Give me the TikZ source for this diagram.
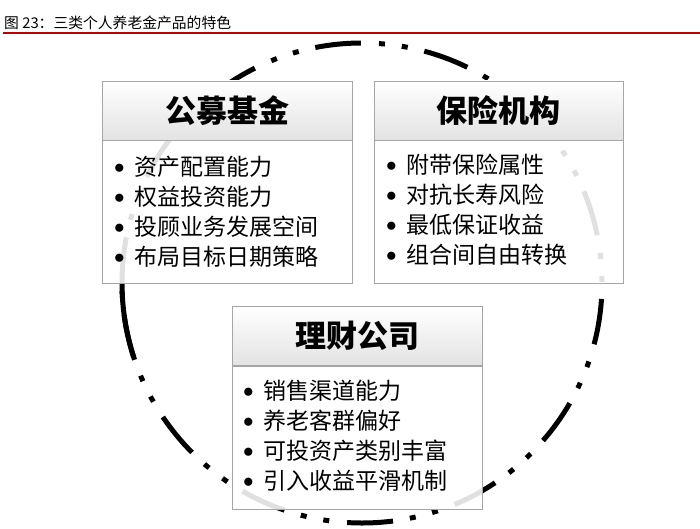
\documentclass[tikz,border=0pt]{standalone}
\usepackage{fontspec}
\setmainfont{Noto Sans CJK SC}
\usepackage{tikz}
\usetikzlibrary{positioning}

\newcommand{\itm}{\makebox[21pt][l]{\hspace{1pt}\raisebox{2pt}{\scalebox{0.85}{$\bullet$}}}}

\begin{document}
\begin{tikzpicture}[
    x=1pt, y=-1pt,
    head/.style={draw=black!35, top color=white, bottom color=black!11, minimum width=250pt, minimum height=59pt, inner sep=0pt, font=\fontsize{31}{31}\selectfont\bfseries},
    panel/.style={draw=black!35, fill=white, fill opacity=0.88, minimum width=250pt, minimum height=143pt, inner sep=0pt},
    items/.style={align=left, inner sep=0pt, anchor=north west, font=\fontsize{23}{30}\selectfont},
    ring/.style={line width=5pt, black},
  ]
  \useasboundingbox (0,0) rectangle (700,529);

  % caption
  \node[anchor=west, inner sep=0pt, font=\fontsize{14.8}{15}\selectfont] (cap) at (4,23) {图 23：三类个人养老金产品的特色};
  \coordinate (rl) at (3,33);
  \coordinate (rr) at (700,33);
  \draw[red!75!black, line width=1.6pt] (rl) -- (rr);

  % dash-dot-dot ring behind the panels
  \coordinate (ctr) at (362,283);
  \draw[ring, dash pattern=on 46pt off 18pt on 6pt off 17pt on 6pt off 17pt] (ctr) ++(180:240) arc[start angle=180, end angle=540, radius=240];
  \draw[ring] (ctr) ++(162:240) arc[start angle=162, end angle=180, radius=240];

  % 公募基金
  \node[head] (fundhd) at (227,110.5) {公募基金};
  \node[panel, below=0pt of fundhd] (fund) {};
  \node[items] (funditems) at (113,156) {\itm 资产配置能力\\\itm 权益投资能力\\\itm 投顾业务发展空间\\\itm 布局目标日期策略};

  % 保险机构
  \node[head, minimum width=249pt] (inshd) at (498.5,110.5) {保险机构};
  \node[panel, minimum width=249pt, below=0pt of inshd] (ins) {};
  \node[items] (insitems) at (385,154) {\itm 附带保险属性\\\itm 对抗长寿风险\\\itm 最低保证收益\\\itm 组合间自由转换};

  % 理财公司
  \node[head] (wmhd) at (357,336) {理财公司};
  \node[panel, below=0pt of wmhd] (wm) {};
  \node[items] (wmitems) at (242,380) {\itm 销售渠道能力\\\itm 养老客群偏好\\\itm 可投资产类别丰富\\\itm 引入收益平滑机制};
\end{tikzpicture}
\end{document}
